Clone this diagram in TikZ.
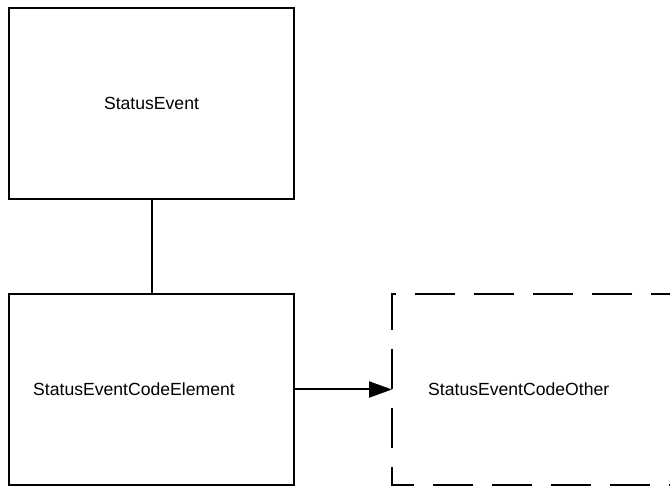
\documentclass[tikz,border=0pt]{standalone}
\usepackage{fontspec}
\setmainfont{Liberation Sans}
\usetikzlibrary{arrows.meta}
\begin{document}
\begin{tikzpicture}[x=1pt,y=-1pt,
  box/.style={draw=black,line width=2pt,minimum width=285pt,minimum height=191pt,inner sep=0pt,outer sep=0pt},
  ghost/.style={minimum width=308pt,minimum height=191pt,inner sep=0pt,outer sep=0pt},
  lbl/.style={inner sep=0pt,font=\fontsize{17.6}{20}\selectfont},
  conn/.style={draw=black,line width=2pt},
  dashbox/.style={draw=black,line width=2pt,dash pattern=on 40pt off 19pt,dash phase=3pt}]
\useasboundingbox (0,0) rectangle (670,486);
\clip (0,0) rectangle (670,486);
\node[box] (se) at (151.5,103.5) {};
\node[box] (sce) at (151.5,389.5) {};
\node[ghost] (other) at (546,389.5) {};
\node[lbl] (tse) at (151.5,103.5) {StatusEvent};
\node[lbl,anchor=west] (tsce) at (33,389.5) {StatusEventCodeElement};
\node[lbl,anchor=west] (tother) at (428,389.5) {StatusEventCodeOther};
\draw[conn] (se.south) -- (sce.north);
\draw[conn,-{Triangle[length=23pt,width=16pt]}] (sce.east) -- (other.west);
\draw[dashbox] ([xshift=-12pt]other.north east) -- (other.north west) -- (other.south west) -- ([xshift=-12pt]other.south east);
\end{tikzpicture}
\end{document}
